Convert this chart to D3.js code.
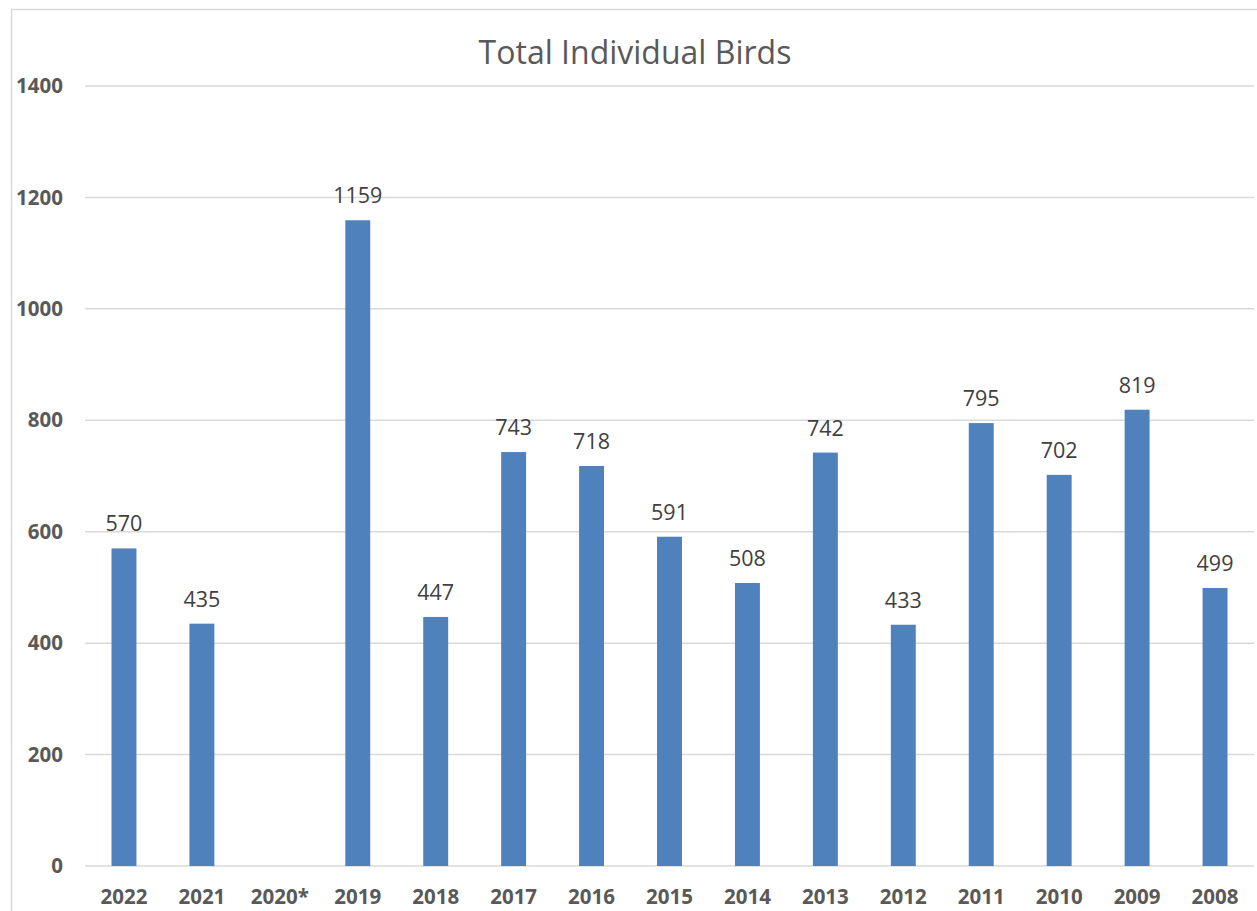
<!DOCTYPE html>
<html><head><meta charset="utf-8">
<script src="https://cdn.jsdelivr.net/npm/d3@7"></script>
<style>body{margin:0;background:#fff;} svg{display:block;}</style>
</head><body>
<svg id="c" width="1257" height="911"></svg>
<script>
const categories = ["2022","2021","2020*","2019","2018","2017","2016","2015","2014","2013","2012","2011","2010","2009","2008"];
const values = [570,435,null,1159,447,743,718,591,508,742,433,795,702,819,499];
const yTicks = [0,200,400,600,800,1000,1200,1400];
const title = "Total Individual Birds";

const svg = d3.select("#c");
const font = "'Open Sans', 'Noto Sans', sans-serif";
// chart border
svg.append("path").attr("d","M11.5,911 L11.5,9.5 L1257,9.5").attr("fill","none").attr("stroke","#d9d9d9").attr("stroke-width",1.5);

const x = d3.scaleBand().domain(categories).range([85,1254]).paddingInner(0.68).paddingOuter(0.34);
const y = d3.scaleLinear().domain([0,1400]).range([866,86]);

// gridlines
svg.append("g").selectAll("line").data(yTicks).join("line")
  .attr("x1",85).attr("x2",1254).attr("y1",d=>y(d)).attr("y2",d=>y(d))
  .attr("stroke","#d9d9d9").attr("stroke-width",1.5);

// y labels
svg.append("g").selectAll("text").data(yTicks).join("text")
  .attr("x",63).attr("y",d=>y(d)).attr("dy","0.35em").attr("text-anchor","end")
  .attr("font-family",font).attr("font-weight","bold").attr("font-size",20.5).attr("fill","#595959")
  .text(d=>d);

const data = categories.map((c,i)=>({c,v:values[i]})).filter(d=>d.v!=null);
svg.append("g").selectAll("rect").data(data).join("rect")
  .attr("x",d=>x(d.c)).attr("width",x.bandwidth()).attr("y",d=>y(d.v)).attr("height",d=>y(0)-y(d.v))
  .attr("fill","#4f81bd");

svg.append("g").selectAll("text").data(data).join("text")
  .attr("x",d=>x(d.c)+x.bandwidth()/2).attr("y",d=>y(d.v)-17).attr("text-anchor","middle")
  .attr("font-family",font).attr("font-size",21.5).attr("fill","#404040")
  .text(d=>d.v);

// x labels
svg.append("g").selectAll("text").data(categories).join("text")
  .attr("x",d=>x(d)+x.bandwidth()/2).attr("y",897).attr("dy","0.35em").attr("text-anchor","middle")
  .attr("font-family",font).attr("font-weight","bold").attr("font-size",20.5).attr("fill","#595959")
  .text(d=>d);

svg.append("text").attr("x",635).attr("y",53).attr("dy","0.35em").attr("text-anchor","middle")
  .attr("font-family",font).attr("font-size",32).attr("fill","#595959").text(title);
</script>
</body></html>
